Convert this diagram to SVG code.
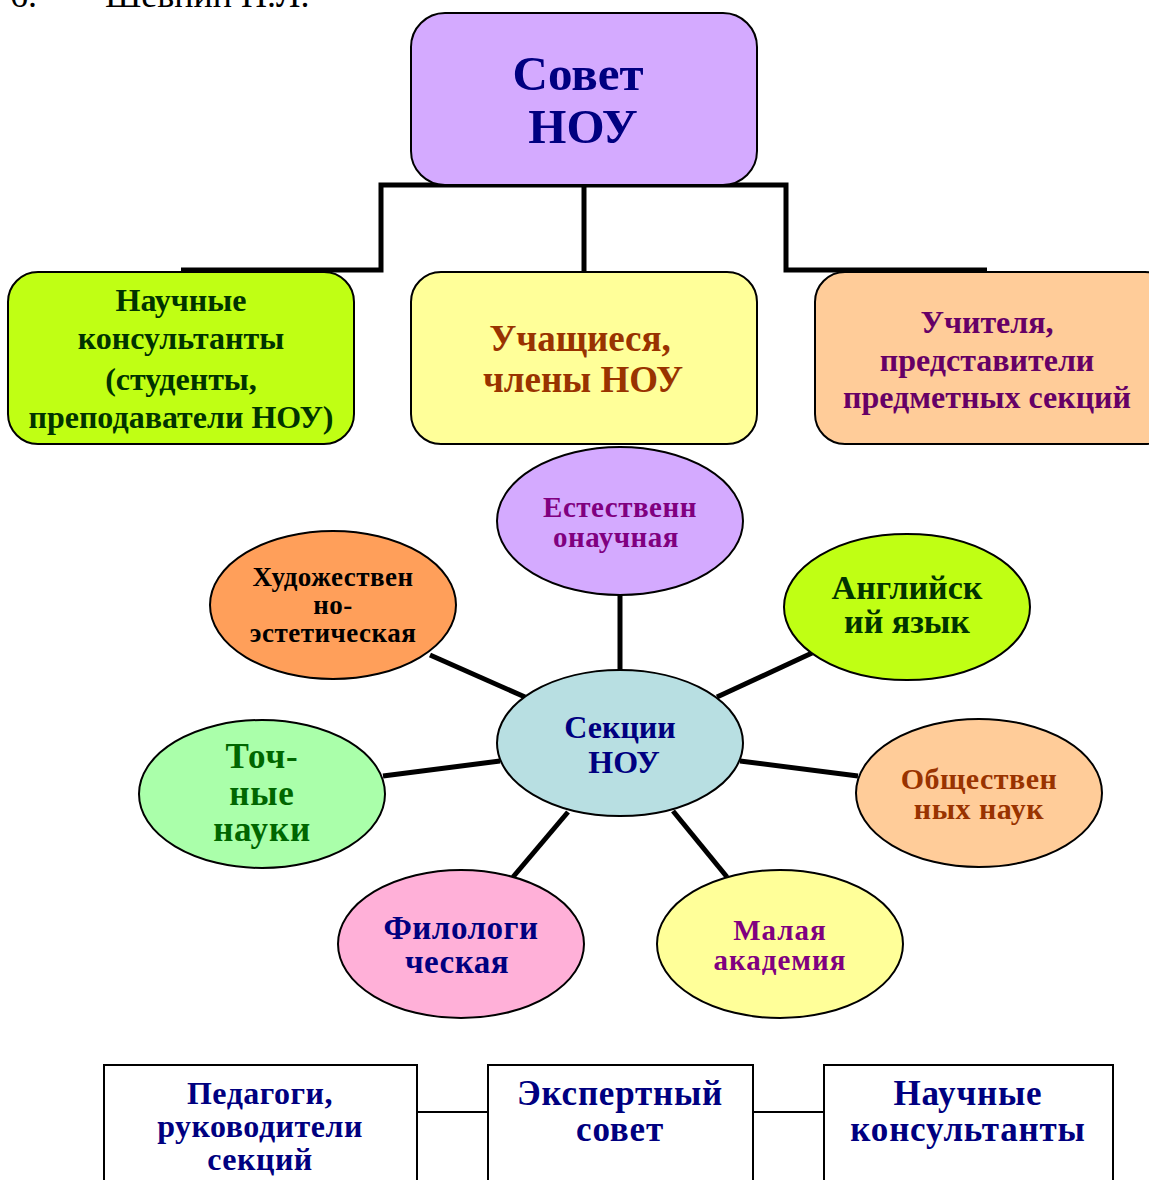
<svg xmlns="http://www.w3.org/2000/svg" width="1149" height="1180" viewBox="0 0 1149 1180">
<style>
text{font-family:"Liberation Serif","Times New Roman",serif;font-weight:bold;text-anchor:middle}
.hdr{font-weight:normal;text-anchor:start;font-size:36px;fill:#000}
.box{stroke:#000;stroke-width:2}
.ell{stroke:#000;stroke-width:2}
.link{stroke:#000;stroke-width:5;fill:none}
.thin{stroke:#000;stroke-width:2;fill:none}
.sq{fill:#fff;stroke:#000;stroke-width:2}
</style>
<text class="hdr" x="10" y="7">6.</text>
<text class="hdr" x="105" y="7">Шевнин Н.Л.</text>

<g id="connectors">
<path class="link" d="M181,270 H381 V185 H786 V270 H987"/>
<path class="link" d="M584,185 V272"/>
<path class="link" d="M620,595 V670"/>
<path class="link" d="M430,655 L525,697"/>
<path class="link" d="M812,653 L717,697"/>
<path class="link" d="M383,776 L500,761"/>
<path class="link" d="M858,776 L740,761"/>
<path class="link" d="M513,877 L568,812"/>
<path class="link" d="M727,877 L673,811"/>
<path class="thin" d="M417,1112 H488 M753,1112 H824"/>
</g>

<g id="sovet">
<rect class="box" x="411" y="13" width="346" height="172" rx="34" fill="#D4AAFF"/>
<text x="578" y="90" font-size="49" fill="#000080">Совет</text>
<text x="583" y="143" font-size="49" fill="#000080">НОУ</text>
</g>

<g id="consultants">
<rect class="box" x="8" y="272" width="346" height="172" rx="30" fill="#C0FF14"/>
<g font-size="32" fill="#003300">
<text x="181" y="311">Научные</text>
<text x="181" y="349">консультанты</text>
<text x="181" y="390">(студенты,</text>
<text x="181" y="428">преподаватели НОУ)</text>
</g>
</g>

<g id="students">
<rect class="box" x="411" y="272" width="346" height="172" rx="30" fill="#FFFF99"/>
<g font-size="37" fill="#993300">
<text x="580" y="351">Учащиеся,</text>
<text x="583" y="392">члены НОУ</text>
</g>
</g>

<g id="teachers">
<rect class="box" x="815" y="272" width="360" height="172" rx="30" fill="#FFCC99"/>
<g font-size="32" fill="#660066">
<text x="987" y="333">Учителя,</text>
<text x="987" y="371">представители</text>
<text x="987" y="408">предметных секций</text>
</g>
</g>

<g id="natural">
<ellipse class="ell" cx="620" cy="521" rx="123" ry="74" fill="#D4AAFF"/>
<g font-size="29" fill="#800080" letter-spacing="0.5">
<text x="620" y="517">Естественн</text>
<text x="616" y="547">онаучная</text>
</g>
</g>

<g id="art">
<ellipse class="ell" cx="333" cy="605" rx="123" ry="74" fill="#FF9F5A"/>
<g font-size="27" fill="#000" letter-spacing="0.5">
<text x="333" y="586">Художествен</text>
<text x="333" y="614">но-</text>
<text x="333" y="642">эстетическая</text>
</g>
</g>

<g id="english">
<ellipse class="ell" cx="907" cy="607" rx="123" ry="73" fill="#C0FF14"/>
<g font-size="34" fill="#003300">
<text x="907" y="599">Английск</text>
<text x="907" y="633">ий язык</text>
</g>
</g>

<g id="sections">
<ellipse class="ell" cx="620" cy="743" rx="123" ry="73" fill="#B8DFE2"/>
<g font-size="32" fill="#000080">
<text x="620" y="738">Секции</text>
<text x="624" y="773">НОУ</text>
</g>
</g>

<g id="exact">
<ellipse class="ell" cx="262" cy="794" rx="123" ry="74" fill="#AAFFAA"/>
<g font-size="35" fill="#006600" letter-spacing="0.8">
<text x="262" y="768">Точ-</text>
<text x="262" y="805">ные</text>
<text x="262" y="841">науки</text>
</g>
</g>

<g id="social">
<ellipse class="ell" cx="979" cy="793" rx="123" ry="74" fill="#FFCC99"/>
<g font-size="30" fill="#993300" letter-spacing="0.5">
<text x="979" y="789">Обществен</text>
<text x="979" y="819">ных наук</text>
</g>
</g>

<g id="philology">
<ellipse class="ell" cx="461" cy="944" rx="123" ry="74" fill="#FFB0D8"/>
<g font-size="33" fill="#000080" letter-spacing="0.5">
<text x="461" y="939">Филологи</text>
<text x="457" y="973">ческая</text>
</g>
</g>

<g id="academy">
<ellipse class="ell" cx="780" cy="944" rx="123" ry="74" fill="#FFFF99"/>
<g font-size="29" fill="#800080" letter-spacing="1">
<text x="780" y="940">Малая</text>
<text x="780" y="970">академия</text>
</g>
</g>

<g id="pedagogues">
<rect class="sq" x="104" y="1065" width="313" height="130"/>
<g font-size="32" fill="#000080" letter-spacing="0.5">
<text x="260" y="1104">Педагоги,</text>
<text x="260" y="1137">руководители</text>
<text x="260" y="1170">секций</text>
</g>
</g>

<g id="expert">
<rect class="sq" x="488" y="1065" width="265" height="130"/>
<g font-size="35" fill="#000080" letter-spacing="0.8">
<text x="620" y="1105">Экспертный</text>
<text x="620" y="1141">совет</text>
</g>
</g>

<g id="sci-consultants">
<rect class="sq" x="824" y="1065" width="289" height="130"/>
<g font-size="35" fill="#000080" letter-spacing="0.8">
<text x="968" y="1105">Научные</text>
<text x="968" y="1141">консультанты</text>
</g>
</g>
</svg>
